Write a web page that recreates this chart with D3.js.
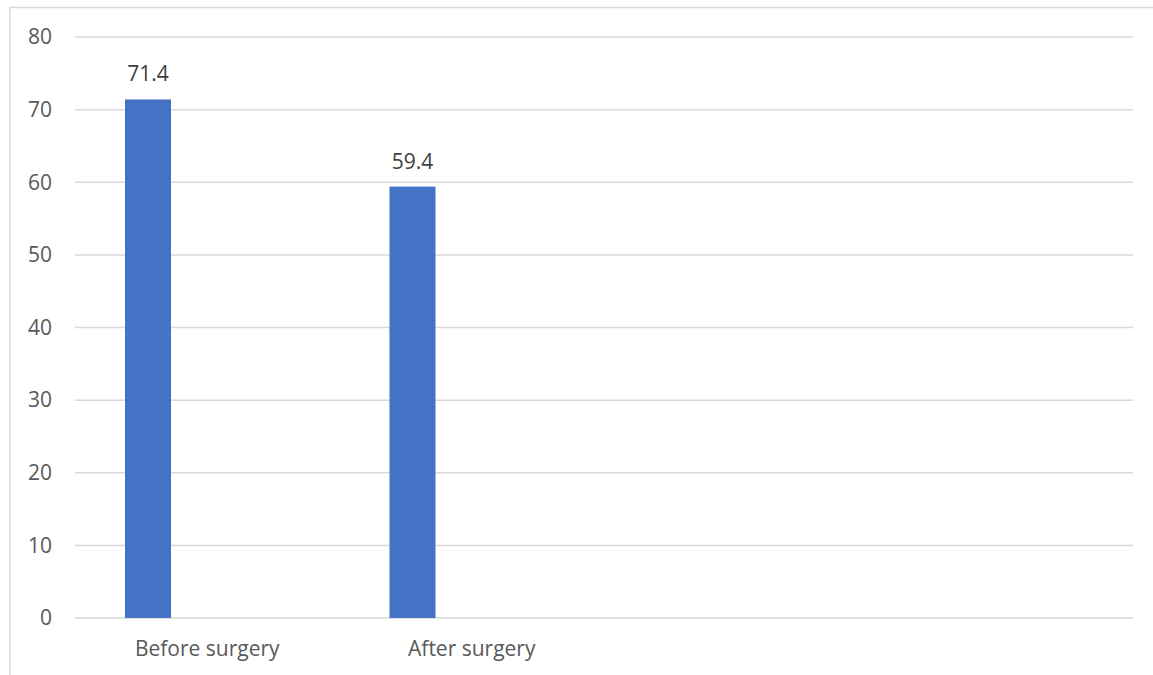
<!DOCTYPE html>
<html><head><meta charset="utf-8">
<script src="https://cdn.jsdelivr.net/npm/d3@7"></script>
<style>body{margin:0;background:#fff}svg{display:block}text{font-family:"Open Sans","Noto Sans",sans-serif}</style>
</head><body><svg id="c" width="1153" height="675"></svg>
<script>
const categories = ["Before surgery", "After surgery", "", " "];
const values = [71.4, 59.4, null, null];
const yTicks = [0, 10, 20, 30, 40, 50, 60, 70, 80];

const W = 1153, H = 675;
const m = {left: 75, right: 20, top: 37, bottom: 57};
const svg = d3.select("#c");

// chart border (left and top edges)
svg.append("path").attr("d", `M10,${H} L10,7.5 L${W},7.5`)
  .attr("fill", "none").attr("stroke", "#d9d9d9").attr("stroke-width", 1.5);

const x = d3.scaleBand().domain(categories).range([m.left, W - m.right]);
const y = d3.scaleLinear().domain([0, 80]).range([H - m.bottom, m.top]);

// gridlines
svg.append("g").selectAll("line").data(yTicks).join("line")
  .attr("x1", m.left).attr("x2", W - m.right)
  .attr("y1", d => y(d)).attr("y2", d => y(d))
  .attr("stroke", "#d9d9d9").attr("stroke-width", 1.5);

// y tick labels
svg.append("g").selectAll("text").data(yTicks).join("text")
  .attr("x", 52).attr("y", d => y(d)).attr("dy", "0.35em")
  .attr("text-anchor", "end").attr("fill", "#595959").attr("font-size", 21)
  .text(d => d);

const bw = x.bandwidth();
const barOff = bw * 0.189, barW = bw * 0.174;
const data = categories.map((c, i) => ({c, v: values[i]})).filter(d => d.v != null);

svg.append("g").selectAll("rect").data(data).join("rect")
  .attr("x", d => x(d.c) + barOff).attr("width", barW)
  .attr("y", d => y(d.v)).attr("height", d => y(0) - y(d.v))
  .attr("fill", "#4472c4");

svg.append("g").selectAll("text").data(data).join("text")
  .attr("x", d => x(d.c) + barOff + barW / 2).attr("y", d => y(d.v) - 18)
  .attr("text-anchor", "middle").attr("fill", "#404040").attr("font-size", 21)
  .text(d => d.v.toFixed(1));

// category labels
svg.append("g").selectAll("text").data(categories.filter(c => c.trim())).join("text")
  .attr("x", d => x(d) + bw / 2).attr("y", 656)
  .attr("text-anchor", "middle").attr("fill", "#595959").attr("font-size", 21)
  .text(d => d);
</script></body></html>
